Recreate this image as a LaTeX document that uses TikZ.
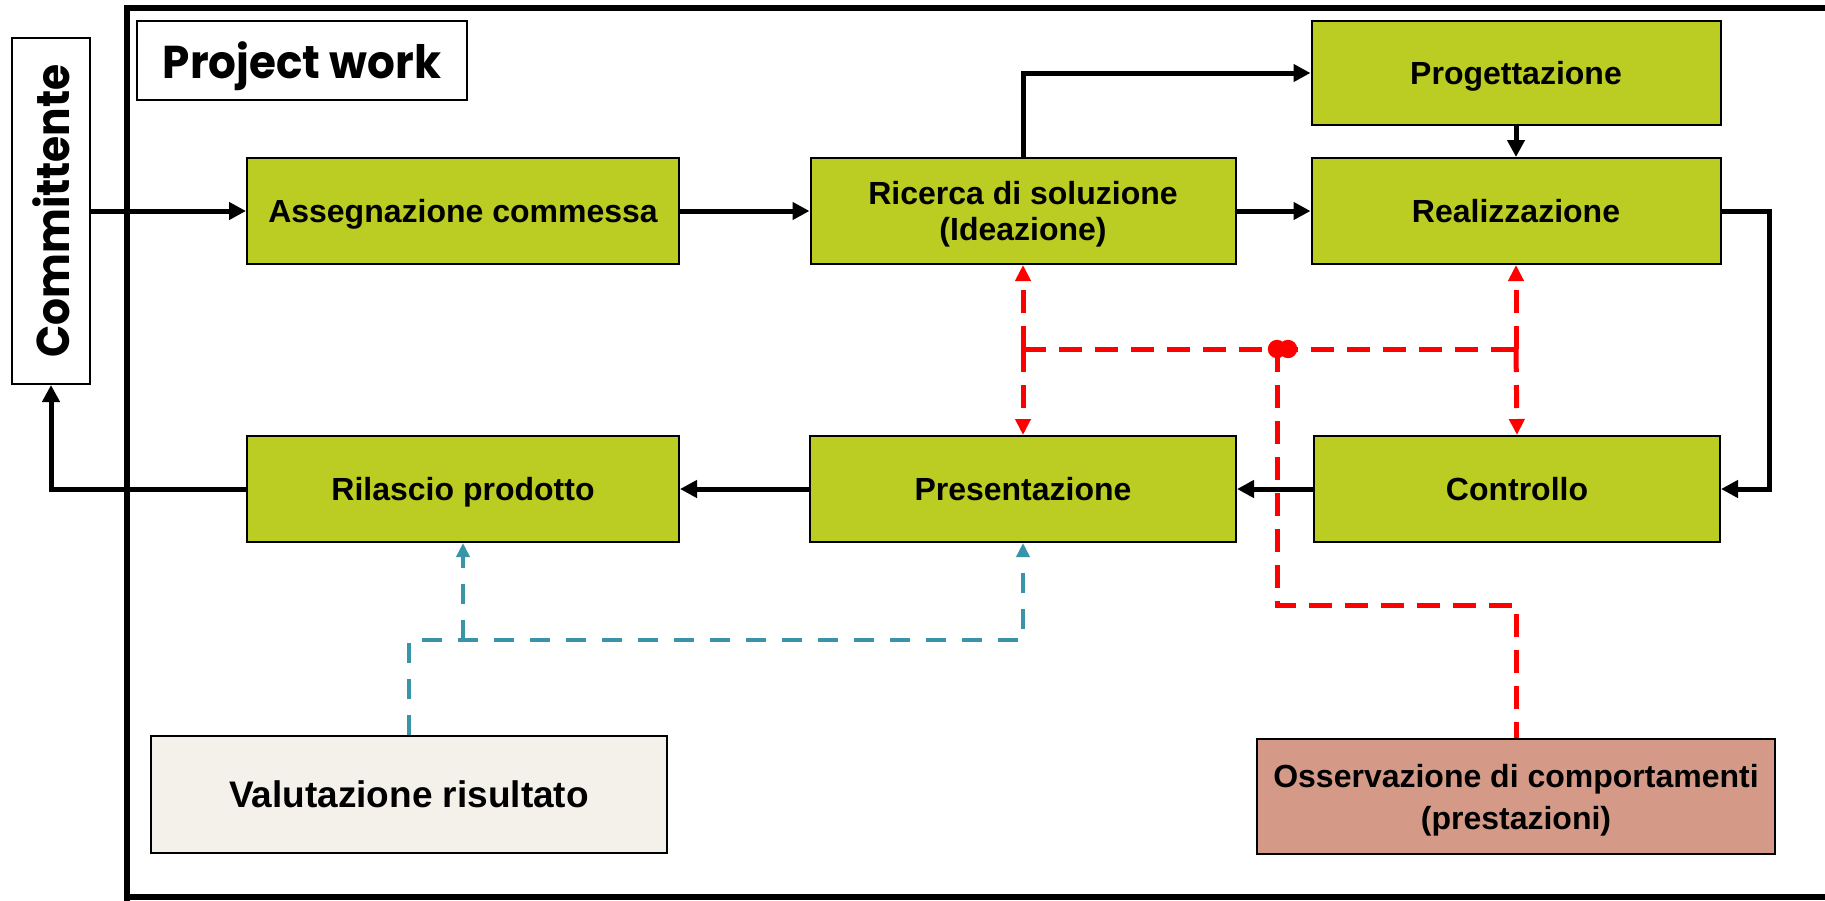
\documentclass[tikz,border=0pt]{standalone}
\usepackage{fontspec}
\setmainfont{Liberation Sans}
\newfontfamily\gothic{Poppins}
\usetikzlibrary{arrows.meta}
\definecolor{boxgreen}{HTML}{BBCC22}
\definecolor{valc}{HTML}{F3F1E9}
\definecolor{ossc}{HTML}{D59A87}
\definecolor{bluec}{HTML}{3A94A9}
\definecolor{redc}{HTML}{FF0000}
\tikzset{
  proc/.style={draw=black, line width=1pt, fill=boxgreen, inner sep=0pt, align=center,
    text depth=0pt, font=\bfseries\fontsize{16}{18}\selectfont, minimum height=53pt},
  flow/.style={line width=2.5pt, -{Triangle[length=8.5pt,width=8.5pt]}},
  redln/.style={redc, line width=2.5pt, dash pattern=on 11.5pt off 6.5pt},
  redarr/.style={redln, -{Triangle[length=8pt,width=7.5pt]}},
  blueln/.style={bluec, line width=2.2pt, dash pattern=on 10pt off 8pt},
  bluearr/.style={blueln, -{Triangle[length=7pt,width=6.5pt]}},
}
\begin{document}
\begin{tikzpicture}[x=0.5pt,y=-0.5pt]
\useasboundingbox[fill=white] (0,0) rectangle (1825,900);
% outer frame
\draw[line width=2.6pt] (127,1000) -- (127,8) -- (1900,8);
\draw[line width=2.6pt] (127,897) -- (1900,897);
% title boxes
\node[draw, line width=1pt, fill=white, minimum width=165pt, minimum height=39.5pt, inner sep=0pt,
  text depth=0pt, font=\gothic\bfseries\fontsize{23}{28}\selectfont] (proj) at (302,60)
  {\scalebox{0.95}[1]{Project work}};
\node[draw, line width=1pt, fill=white, minimum width=39pt, minimum height=173pt, inner sep=0pt,
  font=\gothic\bfseries\fontsize{23}{28}\selectfont] (comm) at (51,211)
  {\rotatebox{90}{\scalebox{0.92}[1]{Committente}}};
% process boxes
\node[proc, minimum width=216pt] (ass) at (463,211) {Assegnazione commessa};
\node[proc, minimum width=212.5pt] (ric) at (1023,211) {Ricerca di soluzione\\(Ideazione)};
\node[proc, minimum width=204.5pt, minimum height=52pt] (prog) at (1516,73) {Progettazione};
\node[proc, minimum width=204.5pt] (real) at (1516,211) {Realizzazione};
\node[proc, minimum width=203pt] (ctrl) at (1517,489) {Controllo};
\node[proc, minimum width=213pt] (pres) at (1023,489) {Presentazione};
\node[proc, minimum width=216pt] (ril) at (463,489) {Rilascio prodotto};
\node[draw, line width=1pt, fill=valc, inner sep=0pt, minimum width=258pt, minimum height=58.5pt,
  text depth=0pt, font=\bfseries\fontsize{18.5}{22}\selectfont] (val) at (409,794.5) {Valutazione risultato};
\node[draw, line width=1pt, fill=ossc, inner sep=0pt, minimum width=259pt, minimum height=57.5pt, align=center,
  text depth=0pt, font=\bfseries\fontsize{16}{21}\selectfont] (oss) at (1516,796.5) {Osservazione di comportamenti\\(prestazioni)};
% helper coordinates
\coordinate (rx) at (1769,0);
\coordinate (rh) at (0,349);
\coordinate (ob) at (0,605);
\coordinate (bh) at (0,640);
\coordinate (d1) at (1277,349);
\coordinate (d2) at (1288,349);
% black flow
\draw[flow] (comm.east |- ass.west) -- (ass.west);
\draw[flow] (ass) -- (ric);
\draw[flow] (ric) -- (real);
\draw[flow] (ric.north) |- (prog.west);
\draw[flow] (prog) -- (real);
\draw[flow] (real.east) -- (real.east -| rx) -- (ctrl.east -| rx) -- (ctrl.east);
\draw[flow] (ctrl) -- (pres);
\draw[flow] (pres) -- (ril);
\draw[flow] (ril.west) -| (comm.south);
% red dashed
\draw[redln] (ric.south |- rh) -- (real.south |- rh);
\draw[redarr] (ric.south |- rh) -- (ric.south);
\draw[redarr] (ric.south |- rh) -- (pres.north);
\draw[redarr] (real.south |- rh) -- (real.south);
\draw[redarr] (real.south |- rh) -- (ctrl.north);
\draw[redln] (d1) -- (d1 |- ob) -- (oss.north |- ob) -- (oss.north);
\fill[redc] (d1) circle (4.6pt);
\fill[redc] (d2) circle (4.6pt);
% blue dashed
\draw[bluearr] (val.north) -- (val.north |- bh) -- (pres.south |- bh) -- (pres.south);
\draw[bluearr] (ril.south |- bh) -- (ril.south);
\end{tikzpicture}
\end{document}
